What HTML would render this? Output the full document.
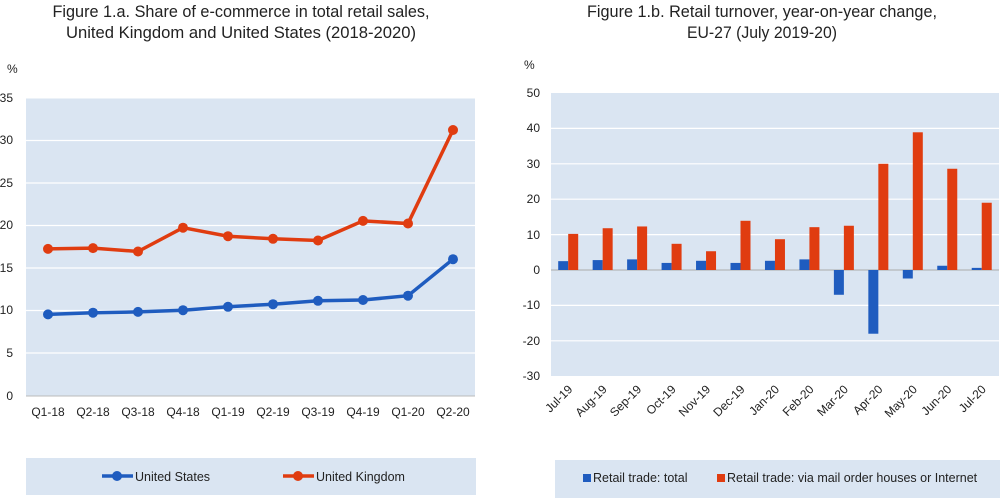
<!DOCTYPE html>
<html><head><meta charset="utf-8"><style>body{margin:0;background:#fff}svg{display:block}text{font-family:"Liberation Sans",sans-serif;fill:#222}</style></head><body>
<svg width="1000" height="498" viewBox="0 0 1000 498" xmlns="http://www.w3.org/2000/svg">
<rect width="1000" height="498" fill="#fff"/>
<text x="241" y="17" font-size="16.5" text-anchor="middle" textLength="377" lengthAdjust="spacingAndGlyphs">Figure 1.a. Share of e-commerce in total retail sales,</text>
<text x="241" y="38" font-size="16.5" text-anchor="middle" textLength="350" lengthAdjust="spacingAndGlyphs">United Kingdom and United States  (2018-2020)</text>
<text x="7" y="73" font-size="12">%</text>
<rect x="26" y="98.5" width="449" height="297.5" fill="#dae5f2"/>
<g stroke="#fff" stroke-width="1.2">
<line x1="26" x2="475" y1="140.5" y2="140.5"/><line x1="26" x2="475" y1="183" y2="183"/><line x1="26" x2="475" y1="225.5" y2="225.5"/><line x1="26" x2="475" y1="268" y2="268"/><line x1="26" x2="475" y1="310.5" y2="310.5"/><line x1="26" x2="475" y1="353" y2="353"/>
</g>
<line x1="26" x2="475" y1="396" y2="396" stroke="#bbb"/>
<g font-size="12" text-anchor="end">
<text x="13" y="102">35</text><text x="13" y="144">30</text><text x="13" y="187">25</text><text x="13" y="229">20</text><text x="13" y="272">15</text><text x="13" y="314">10</text><text x="13" y="357">5</text><text x="13" y="400">0</text>
</g>
<g font-size="12" text-anchor="middle">
<text x="48" y="416">Q1-18</text><text x="93" y="416">Q2-18</text><text x="138" y="416">Q3-18</text><text x="183" y="416">Q4-18</text><text x="228" y="416">Q1-19</text><text x="273" y="416">Q2-19</text><text x="318" y="416">Q3-19</text><text x="363" y="416">Q4-19</text><text x="408" y="416">Q1-20</text><text x="453" y="416">Q2-20</text>
</g>
<polyline fill="none" stroke="#1f5cbf" stroke-width="3.5" points="48,314.4 93,312.7 138,311.9 183,310.2 228,306.8 273,304.2 318,300.8 363,300 408,295.7 453,259.2"/>
<g fill="#1f5cbf"><circle cx="48" cy="314.4" r="5"/><circle cx="93" cy="312.7" r="5"/><circle cx="138" cy="311.9" r="5"/><circle cx="183" cy="310.2" r="5"/><circle cx="228" cy="306.8" r="5"/><circle cx="273" cy="304.2" r="5"/><circle cx="318" cy="300.8" r="5"/><circle cx="363" cy="300" r="5"/><circle cx="408" cy="295.7" r="5"/><circle cx="453" cy="259.2" r="5"/></g>
<polyline fill="none" stroke="#e03c10" stroke-width="3.5" points="48,248.9 93,248.1 138,251.5 183,227.7 228,236.2 273,238.8 318,240.5 363,220.9 408,223.5 453,130"/>
<g fill="#e03c10"><circle cx="48" cy="248.9" r="5"/><circle cx="93" cy="248.1" r="5"/><circle cx="138" cy="251.5" r="5"/><circle cx="183" cy="227.7" r="5"/><circle cx="228" cy="236.2" r="5"/><circle cx="273" cy="238.8" r="5"/><circle cx="318" cy="240.5" r="5"/><circle cx="363" cy="220.9" r="5"/><circle cx="408" cy="223.5" r="5"/><circle cx="453" cy="130" r="5"/></g>
<rect x="26" y="458" width="450" height="37" fill="#dae5f2"/>
<line x1="102" x2="133" y1="476" y2="476" stroke="#1f5cbf" stroke-width="3.5"/><circle cx="117" cy="476" r="5" fill="#1f5cbf"/>
<text x="135" y="481" font-size="12.5">United States</text>
<line x1="283" x2="314" y1="476" y2="476" stroke="#e03c10" stroke-width="3.5"/><circle cx="298" cy="476" r="5" fill="#e03c10"/>
<text x="316" y="481" font-size="12.5">United Kingdom</text>
<text x="762" y="17" font-size="16.5" text-anchor="middle" textLength="350" lengthAdjust="spacingAndGlyphs">Figure 1.b. Retail turnover, year-on-year change,</text>
<text x="762" y="38" font-size="16.5" text-anchor="middle" textLength="150" lengthAdjust="spacingAndGlyphs">EU-27 (July 2019-20)</text>
<text x="524" y="69" font-size="12">%</text>
<rect x="551" y="93" width="448" height="283" fill="#dae5f2"/>
<g stroke="#fff" stroke-width="1.2">
<line x1="551" x2="999" y1="128.4" y2="128.4"/><line x1="551" x2="999" y1="163.8" y2="163.8"/><line x1="551" x2="999" y1="199.2" y2="199.2"/><line x1="551" x2="999" y1="234.6" y2="234.6"/><line x1="551" x2="999" y1="305.4" y2="305.4"/><line x1="551" x2="999" y1="340.8" y2="340.8"/>
</g>
<line x1="551" x2="999" y1="270" y2="270" stroke="#aaa"/>
<g font-size="12" text-anchor="end">
<text x="540" y="97">50</text><text x="540" y="132">40</text><text x="540" y="168">30</text><text x="540" y="203">20</text><text x="540" y="239">10</text><text x="540" y="274">0</text><text x="540" y="309">-10</text><text x="540" y="345">-20</text><text x="540" y="380">-30</text>
</g>
<g id="bars"></g>
<g font-size="12" text-anchor="end" id="xl"></g>
<rect x="555" y="460" width="445" height="38" fill="#dae5f2"/>
<rect x="583" y="474" width="8" height="8" fill="#1f5cbf"/>
<text x="593" y="482" font-size="12.5">Retail trade: total</text>
<rect x="717" y="474" width="8" height="8" fill="#e03c10"/>
<text x="727" y="482" font-size="12.5">Retail trade: via mail order houses or Internet</text>
<script>
var b=[2.5,2.8,3,2,2.6,2,2.6,3,-7,-18,-2.4,1.2,0.6],r=[10.2,11.8,12.3,7.4,5.3,13.9,8.7,12.1,12.5,30,38.9,28.6,19];
var L=["Jul-19","Aug-19","Sep-19","Oct-19","Nov-19","Dec-19","Jan-20","Feb-20","Mar-20","Apr-20","May-20","Jun-20","Jul-20"];
var ns="http://www.w3.org/2000/svg",g=document.getElementById("bars"),xl=document.getElementById("xl");
function rc(x,v,c){var e=document.createElementNS(ns,"rect");var y0=270,y1=270-v*3.54;e.setAttribute("x",x);e.setAttribute("width",10);e.setAttribute("y",Math.min(y0,y1));e.setAttribute("height",Math.abs(y1-y0));e.setAttribute("fill",c);g.appendChild(e);}
for(var i=0;i<13;i++){var c=568.2+i*34.46;rc(c-10,b[i],"#1f5cbf");rc(c,r[i],"#e03c10");
var t=document.createElementNS(ns,"text");t.setAttribute("transform","translate("+(c+5)+",390) rotate(-45)");t.textContent=L[i];xl.appendChild(t);}
</script>
</svg>
</body></html>
